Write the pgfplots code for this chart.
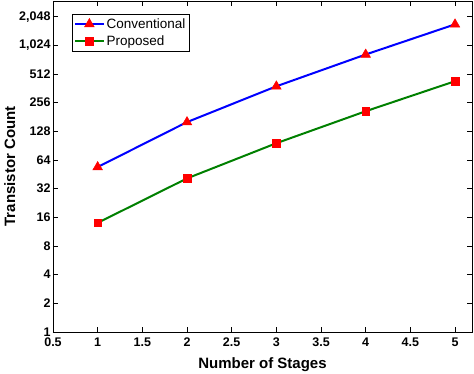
\documentclass[border=0pt]{standalone}
\usepackage{fontspec}
\setmainfont{Liberation Sans}
\usepackage{pgfplots}
\pgfplotsset{compat=1.18}
\begin{document}
\begin{tikzpicture}
\begin{axis}[
  name=ax, at={(0,0)}, anchor=south west,
  scale only axis, width=419pt, height=331pt,
  xmin=0.5, xmax=5.19,
  ymode=log, log basis y=2,
  ymin=1, ymax=2990,
  xtick={0.5,1,1.5,2,2.5,3,3.5,4,4.5,5},
  xticklabels={0.5,1,1.5,2,2.5,3,3.5,4,4.5,5},
  ytick={1,2,4,8,16,32,64,128,256,512,1024,2048},
  yticklabels={1,2,4,8,16,32,64,128,256,512,{1,024},{2,048}},
  yminorticks=false,
  tick align=inside, major tick length=5pt,
  tick style={black, line width=0.6pt},
  axis line style={line width=0.8pt},
  ticklabel style={font=\fontsize{12.5}{13}\selectfont\bfseries},
  xticklabel style={yshift=-2pt},
  yticklabel style={xshift=1pt},
  xlabel={Number of Stages}, ylabel={Transistor Count},
  label style={font=\fontsize{15}{16}\selectfont\bfseries},
  xlabel style={yshift=-4pt},
  ylabel style={yshift=-3pt},
  legend style={at={(0.045,0.962)}, anchor=north west, draw=black, line width=0.6pt,
    font=\fontsize{13.5}{15}\selectfont, inner xsep=2pt, inner ysep=2.5pt, row sep=2pt},
  legend cell align=left,
  legend image code/.code={
    \draw[mark repeat=2,mark phase=2] plot coordinates {(0cm,0cm) (0.5cm,0cm) (1.0cm,0cm)};},
]
\addplot[color=blue, line width=2pt, mark=triangle*, mark size=5.5pt,
  mark options={fill=red, draw=red, line width=0.5pt}]
  coordinates {(1,54) (2,160) (3,380) (4,820) (5,1700)};
\addlegendentry{Conventional}
\addplot[color={rgb,255:red,0;green,128;blue,0}, line width=2pt, mark=square*, mark size=3.8pt,
  mark options={fill=red, draw=red, line width=0.5pt}]
  coordinates {(1,14) (2,41) (3,96) (4,208) (5,430)};
\addlegendentry{Proposed}
\end{axis}
\pgfresetboundingbox
\path (-53pt,-42pt) rectangle (421pt,332pt);
\end{tikzpicture}
\end{document}
